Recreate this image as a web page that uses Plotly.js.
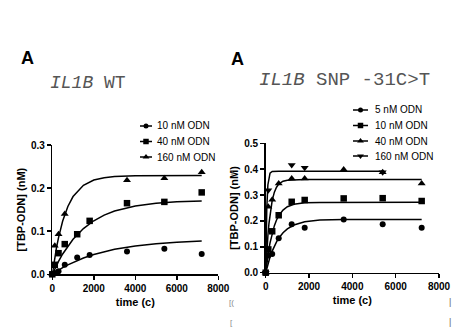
<!DOCTYPE html>
<html>
<head>
<meta charset="utf-8">
<script src="https://cdn.plot.ly/plotly-3.0.1.min.js"></script>
<style>html,body{margin:0;padding:0;background:#fff}#chart{width:471px;height:330px}</style>
</head>
<body>
<div id="chart"></div>
<script>
// ---------- Panel 1: IL1B WT ----------
const wtLegend = ["10 nM ODN", "40 nM ODN", "160 nM ODN"];
const wtTime10 = [0, 120, 300, 600, 1200, 1800, 3600, 5400, 7200];
const wtVal10  = [0, 0.003, 0.007, 0.022, 0.039, 0.045, 0.053, 0.059, 0.047];
const wtTime40 = [0, 120, 300, 600, 1200, 1800, 3600, 5400, 7200];
const wtVal40  = [0, 0.022, 0.049, 0.070, 0.093, 0.124, 0.165, 0.168, 0.190];
const wtTime160 = [0, 120, 300, 600, 3600, 5400, 7200];
const wtVal160  = [0, 0.066, 0.093, 0.140, 0.218, 0.223, 0.237];
// fitted curves
const wtFitTime = [0, 100, 200, 300, 500, 750, 1000, 1500, 2000, 2500, 3000, 4000, 5000, 6000, 7200];
const wtFit10  = [0, 0.0033, 0.0065, 0.0096, 0.0153, 0.0219, 0.0278, 0.0379, 0.0460, 0.0527, 0.0580, 0.0659, 0.0711, 0.0745, 0.0771];
const wtFit40  = [0, 0.0107, 0.0207, 0.0300, 0.0471, 0.0656, 0.0813, 0.1061, 0.1242, 0.1373, 0.1468, 0.1587, 0.1650, 0.1683, 0.1703];
const wtFit160 = [0, 0.0329, 0.0611, 0.0851, 0.1235, 0.1574, 0.1804, 0.2066, 0.2187, 0.2242, 0.2268, 0.2285, 0.2290, 0.2290, 0.2290];

// ---------- Panel 2: IL1B SNP -31C>T ----------
const snpLegend = ["5 nM ODN", "10 nM ODN", "40 nM ODN", "160 nM ODN"];
const snpTime = [0, 120, 300, 600, 1200, 1800, 3600, 5400, 7200];
const snpVal5  = [0, 0.066, 0.072, 0.133, 0.187, 0.174, 0.206, 0.187, 0.174];
const snpVal10 = [0, 0.090, 0.160, 0.222, 0.274, 0.281, 0.287, 0.288, 0.277];
const snpVal40 = [0, 0.255, 0.282, 0.345, 0.364, 0.364, 0.399, 0.388, 0.345];
const snpTime160 = [0, 120, 1200, 1800, 5400];
const snpVal160  = [0, 0.319, 0.416, 0.406, 0.388];
const snpFitTime = [0, 25, 50, 100, 150, 200, 300, 400, 500, 600, 800, 1000, 1300, 1800, 2500, 3600, 5400, 7200];
const snpFit5  = [0, 0.0087, 0.0171, 0.0327, 0.0471, 0.0603, 0.0834, 0.1029, 0.1193, 0.1330, 0.1544, 0.1695, 0.1843, 0.1969, 0.2033, 0.2056, 0.2060, 0.2060];
const snpFit10 = [0, 0.0181, 0.0351, 0.0656, 0.0922, 0.1154, 0.1532, 0.1818, 0.2036, 0.2201, 0.2421, 0.2548, 0.2645, 0.2701, 0.2717, 0.2720, 0.2720, 0.2720];
const snpFit40 = [0, 0.0423, 0.0796, 0.1417, 0.1900, 0.2276, 0.2797, 0.3113, 0.3304, 0.3421, 0.3534, 0.3576, 0.3595, 0.3600, 0.3600, 0.3600, 0.3600, 0.3600];
const snpFitTime160 = [0, 25, 50, 100, 150, 200, 300, 400, 600, 1000, 1800, 3600, 5400];
const snpFit160 = [0, 0.154, 0.248, 0.339, 0.372, 0.385, 0.391, 0.392, 0.392, 0.392, 0.392, 0.392, 0.392];

const xTicks = [0, 2000, 4000, 6000, 8000];
const wtYTicks = [0, 0.1, 0.2, 0.3];
const snpYTicks = [0, 0.1, 0.2, 0.3, 0.4, 0.5];

// ---------- helpers ----------
const W = 471, H = 330;
const px = v => v / W;
const py = v => 1 - v / H;
const BLACK = '#000';
const FONT = 'Liberation Sans, Arial, sans-serif';
const MONO = 'Liberation Mono, Courier New, monospace';
const sym = {circle: 'circle', square: 'square', up: 'triangle-up', down: 'triangle-down'};
const msize = {circle: 6, square: 6.5, up: 7, down: 7};

function pts(x, y, s, xa, ya) {
  return {x: x, y: y, xaxis: xa, yaxis: ya, type: 'scatter', mode: 'markers', cliponaxis: false,
          marker: {symbol: sym[s], size: msize[s], color: BLACK}, hoverinfo: 'skip'};
}
function fit(x, y, xa, ya) {
  return {x: x, y: y, xaxis: xa, yaxis: ya, type: 'scatter', mode: 'lines', cliponaxis: false,
          line: {color: BLACK, width: 1.5}, hoverinfo: 'skip'};
}
const traces = [
  fit(wtFitTime, wtFit10, 'x', 'y'), fit(wtFitTime, wtFit40, 'x', 'y'), fit(wtFitTime, wtFit160, 'x', 'y'),
  pts(wtTime10, wtVal10, 'circle', 'x', 'y'), pts(wtTime40, wtVal40, 'square', 'x', 'y'), pts(wtTime160, wtVal160, 'up', 'x', 'y'),
  fit(snpFitTime, snpFit5, 'x2', 'y2'), fit(snpFitTime, snpFit10, 'x2', 'y2'), fit(snpFitTime, snpFit40, 'x2', 'y2'),
  fit(snpFitTime160, snpFit160, 'x2', 'y2'),
  pts(snpTime, snpVal5, 'circle', 'x2', 'y2'), pts(snpTime, snpVal10, 'square', 'x2', 'y2'),
  pts(snpTime, snpVal40, 'up', 'x2', 'y2'), pts(snpTime160, snpVal160, 'down', 'x2', 'y2')
];

// legend (own pixel-like axes)
const annotations = [];
function legendBlock(labels, syms, rows, x0, x1, tx, xa, ya) {
  labels.forEach((lab, i) => {
    traces.push({x: [x0, x1], y: [rows[i], rows[i]], xaxis: xa, yaxis: ya, type: 'scatter', mode: 'lines',
                 line: {color: BLACK, width: 1.5}, hoverinfo: 'skip', cliponaxis: false});
    traces.push({x: [(x0 + x1) / 2], y: [rows[i]], xaxis: xa, yaxis: ya, type: 'scatter', mode: 'markers',
                 marker: {symbol: sym[syms[i]], size: msize[syms[i]] - 1, color: BLACK}, hoverinfo: 'skip', cliponaxis: false});
    annotations.push({xref: xa, yref: ya, x: tx, y: rows[i], text: lab, showarrow: false, xanchor: 'left',
                      yanchor: 'middle', font: {family: FONT, size: 10, color: BLACK}, borderpad: 0});
  });
}
legendBlock(wtLegend, ['circle', 'square', 'up'], [126, 141.5, 157], 140, 152, 156, 'x3', 'y3');
legendBlock(snpLegend, ['circle', 'square', 'up', 'down'], [110, 125.5, 141, 156], 353, 368, 374, 'x4', 'y4');

function txt(x, y, text, size, opts) {
  return Object.assign({xref: 'paper', yref: 'paper', x: px(x), y: py(y), text: text, showarrow: false,
    xanchor: 'center', yanchor: 'middle', font: {family: FONT, size: size, color: BLACK}, borderpad: 0}, opts || {});
}
annotations.push(txt(27.5, 58.5, '<b>A</b>', 18));
annotations.push(txt(237, 59, '<b>A</b>', 18));
annotations.push(txt(88, 83, '<i>IL1B</i> WT', 18, {font: {family: MONO, size: 18, color: '#555'}}));
annotations.push(txt(344, 80.5, '<i>IL1B</i> SNP -31C>T', 19, {font: {family: MONO, size: 19, color: '#555'}}));
// stray fragments at the picture's edges
annotations.push(txt(231, 302, '[(', 8, {font: {family: FONT, size: 8, color: '#888'}}));
annotations.push(txt(231, 322, '[', 8, {font: {family: FONT, size: 8, color: '#888'}}));
annotations.push(txt(450, 302, '|', 9, {font: {family: FONT, size: 9, color: '#666'}}));
annotations.push(txt(450, 322, '|', 9, {font: {family: FONT, size: 9, color: '#666'}}));
annotations.push(txt(232, 172, '1', 7, {font: {family: FONT, size: 7, color: '#888'}}));

const tickFont = {family: FONT, size: 10, color: BLACK, weight: 'bold'};
const titleFont = {family: FONT, size: 11, color: BLACK, weight: 'bold'};
function xAxis(domain, anchor) {
  return {domain: domain, anchor: anchor, range: [0, 8000], tickvals: xTicks, tickformat: 'd',
    showline: true, linecolor: BLACK, linewidth: 1.5, ticks: 'outside', ticklen: 4, tickwidth: 1.5, tickcolor: BLACK,
    showgrid: false, zeroline: false, tickfont: tickFont, automargin: false,
    title: {text: 'time (c)', font: titleFont, standoff: 5}};
}
function yAxis(domain, anchor, range, tv) {
  return {domain: domain, anchor: anchor, range: range, tickvals: tv, tickformat: '.1f',
    showline: true, linecolor: BLACK, linewidth: 1.5, ticks: 'outside', ticklen: 4, tickwidth: 1.5, tickcolor: BLACK,
    showgrid: false, zeroline: false, tickfont: tickFont, automargin: false,
    title: {text: '[TBP-ODN] (nM)', font: titleFont, standoff: 3}};
}
const hidden = (domain, range) => ({domain: domain, range: range, visible: false, fixedrange: true});

const layout = {
  width: W, height: H, margin: {l: 0, r: 0, t: 0, b: 0}, showlegend: false,
  paper_bgcolor: '#fff', plot_bgcolor: 'rgba(0,0,0,0)',
  xaxis: xAxis([px(52.3), px(218.3)], 'y'),
  yaxis: yAxis([py(274.3), py(145)], 'x', [0, 0.3], wtYTicks),
  xaxis2: xAxis([px(265.7), px(439)], 'y2'),
  yaxis2: yAxis([py(272.7), py(143.3)], 'x2', [0, 0.5], snpYTicks),
  xaxis3: Object.assign(hidden([px(130), px(230)], [130, 230]), {anchor: 'y3'}),
  yaxis3: Object.assign(hidden([py(165), py(100)], [165, 100]), {anchor: 'x3'}),
  xaxis4: Object.assign(hidden([px(340), px(440)], [340, 440]), {anchor: 'y4'}),
  yaxis4: Object.assign(hidden([py(165), py(100)], [165, 100]), {anchor: 'x4'}),
  annotations: annotations
};
Plotly.newPlot('chart', traces, layout, {staticPlot: true, displayModeBar: false});
</script>
</body>
</html>
